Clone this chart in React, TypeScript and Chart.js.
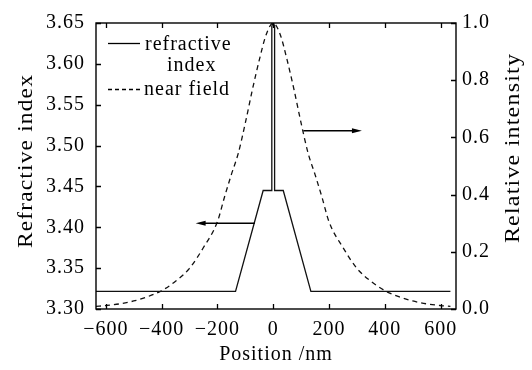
import React, { useEffect, useRef } from "react";
import { Chart, registerables } from "chart.js";

Chart.register(...registerables);

// Near-field relative intensity vs position (nm)
const fieldPos = [-635, -600, -550, -500, -450, -400, -350, -300, -250, -200, -175, -150, -125, -100, -75, -50, -25, 0, 25, 50, 75, 100, 125, 150, 175, 200, 250, 300, 350, 400, 450, 500, 550, 600, 635];
const fieldInt = [0.009, 0.012, 0.018, 0.028, 0.043, 0.064, 0.097, 0.142, 0.215, 0.305, 0.39, 0.47, 0.545, 0.65, 0.765, 0.87, 0.96, 1.0, 0.96, 0.87, 0.765, 0.65, 0.545, 0.47, 0.39, 0.305, 0.215, 0.142, 0.097, 0.064, 0.043, 0.028, 0.018, 0.012, 0.009];

// Refractive index profile vs position (nm)
const indexPos = [-635, -135, -36, -5, -5, -2, 2, 5, 5, 36, 135, 635];
const indexVal = [3.3215, 3.3215, 3.445, 3.445, 3.646, 3.649, 3.649, 3.646, 3.445, 3.445, 3.3215, 3.3215];

// Axis ranges and ticks
const xRange = [-635, 655];
const xStep = 200;
const leftRange = [3.3, 3.65];
const leftStep = 0.05;
const rightRange = [0, 1];
const rightStep = 0.2;

// Annotation arrows (data coordinates)
const arrowFromX = [-66, 108];
const arrowToX = [-278, 318];
const arrowY = [3.405, 0.623];
const arrowAxis = ["y", "y2"];

const legendLabels = ["refractive", "index", "near field"];
const xTitle = "Position /nm";
const leftTitle = "Refractive index";
const rightTitle = "Relative intensity";

const FONT = '"Liberation Serif", "Times New Roman", serif';

export default function App() {
  const ref = useRef<HTMLCanvasElement>(null);

  useEffect(() => {
    const canvas = ref.current;
    if (!canvas) return;

    const spacing = {
      id: "spacing",
      beforeUpdate(chart: any) {
        chart.ctx.letterSpacing = "1px";
      },
      beforeDraw(chart: any) {
        const ctx = chart.ctx;
        ctx.letterSpacing = "1px";
        ctx.save();
        ctx.fillStyle = "#fff";
        ctx.fillRect(0, 0, chart.width, chart.height);
        ctx.restore();
      },
    };

    const vTitle = (ctx: any, text: string, cx: number, cy: number, stretch: number) => {
      ctx.save();
      ctx.translate(cx, cy);
      ctx.rotate(-Math.PI / 2);
      ctx.scale(stretch, 1);
      ctx.font = `20px ${FONT}`;
      ctx.letterSpacing = "1px";
      ctx.fillStyle = "#000";
      ctx.textAlign = "center";
      ctx.textBaseline = "middle";
      ctx.fillText(text, 0, 0);
      ctx.restore();
    };

    const decor = {
      id: "decor",
      afterDatasetsDraw(chart: any) {
        const { ctx, chartArea: a, scales } = chart;
        ctx.save();
        ctx.strokeStyle = "#000";
        ctx.lineWidth = 1.4;
        ctx.strokeRect(a.left, a.top, a.right - a.left, a.bottom - a.top);
        ctx.lineWidth = 1.3;
        const tl = 5;
        ctx.beginPath();
        scales.x.ticks.forEach((t: any) => {
          const px = Math.round(scales.x.getPixelForValue(t.value)) + 0.5;
          ctx.moveTo(px, a.bottom);
          ctx.lineTo(px, a.bottom - tl);
          ctx.moveTo(px, a.top);
          ctx.lineTo(px, a.top + tl);
        });
        scales.y.ticks.forEach((t: any) => {
          const py = Math.round(scales.y.getPixelForValue(t.value)) + 0.5;
          ctx.moveTo(a.left, py);
          ctx.lineTo(a.left + tl, py);
        });
        scales.y2.ticks.forEach((t: any) => {
          const py = Math.round(scales.y2.getPixelForValue(t.value)) + 0.5;
          ctx.moveTo(a.right, py);
          ctx.lineTo(a.right - tl, py);
        });
        ctx.stroke();

        // arrows
        ctx.fillStyle = "#000";
        ctx.lineWidth = 1.5;
        for (let i = 0; i < arrowFromX.length; i++) {
          const ys = scales[arrowAxis[i]];
          const x0 = scales.x.getPixelForValue(arrowFromX[i]);
          const x1 = scales.x.getPixelForValue(arrowToX[i]);
          const y = ys.getPixelForValue(arrowY[i]);
          const dir = x1 > x0 ? 1 : -1;
          ctx.beginPath();
          ctx.moveTo(x0, y);
          ctx.lineTo(x1 - dir * 6, y);
          ctx.stroke();
          ctx.beginPath();
          ctx.moveTo(x1, y);
          ctx.lineTo(x1 - dir * 10, y - 2.5);
          ctx.lineTo(x1 - dir * 10, y + 2.5);
          ctx.closePath();
          ctx.fill();
        }

        // legend
        ctx.letterSpacing = "1px";
        ctx.font = `20px ${FONT}`;
        ctx.textBaseline = "alphabetic";
        ctx.textAlign = "left";
        ctx.lineWidth = 1.3;
        ctx.strokeStyle = "#000";
        ctx.beginPath();
        ctx.moveTo(108, 43.5);
        ctx.lineTo(140, 43.5);
        ctx.stroke();
        ctx.fillText(legendLabels[0], 145, 50);
        ctx.fillText(legendLabels[1], 167, 71);
        ctx.setLineDash([4, 3]);
        ctx.beginPath();
        ctx.moveTo(108, 89.5);
        ctx.lineTo(140, 89.5);
        ctx.stroke();
        ctx.setLineDash([]);
        ctx.fillText(legendLabels[2], 144, 95);
        ctx.restore();

        // vertical axis titles (both read bottom-to-top)
        vTitle(ctx, leftTitle, 27, 161, 1.17);
        vTitle(ctx, rightTitle, 514, 148, 1.2);
      },
    };

    const chart = new Chart(canvas, {
      type: "line",
      data: {
        datasets: [
          {
            label: "refractive index",
            data: indexPos.map((x, i) => ({ x, y: indexVal[i] })),
            yAxisID: "y",
            borderColor: "#111",
            borderWidth: 1.3,
            pointRadius: 0,
            tension: 0,
            fill: false,
          },
          {
            label: "near field",
            data: fieldPos.map((x, i) => ({ x, y: fieldInt[i] })),
            yAxisID: "y2",
            borderColor: "#111",
            borderWidth: 1.3,
            borderDash: [5, 4],
            pointRadius: 0,
            cubicInterpolationMode: "monotone",
            fill: false,
          },
        ],
      },
      options: {
        animation: false,
        responsive: false,
        devicePixelRatio: 1,
        layout: { padding: { top: 16, left: 0, right: 0, bottom: 0 } },
        plugins: { legend: { display: false }, tooltip: { enabled: false } },
        scales: {
          x: {
            type: "linear",
            min: xRange[0],
            max: xRange[1],
            afterFit(s: any) {
              s.height = 61;
            },
            grid: { display: false, drawTicks: false },
            border: { display: false },
            ticks: {
              stepSize: xStep,
              includeBounds: false,
              color: "#000",
              font: { family: FONT, size: 20 },
              padding: 9,
              maxRotation: 0,
              callback: (v: any) => String(v).replace("-", "\u2212"),
            },
            title: {
              display: true,
              text: xTitle,
              color: "#000",
              font: { family: FONT, size: 20 },
              padding: { top: 0, bottom: 3 },
            },
          },
          y: {
            type: "linear",
            position: "left",
            min: leftRange[0],
            max: leftRange[1],
            afterFit(s: any) {
              s.width = 96;
            },
            grid: { display: false, drawTicks: false },
            border: { display: false },
            ticks: {
              stepSize: leftStep,
              includeBounds: false,
              color: "#000",
              font: { family: FONT, size: 20 },
              padding: 11,
              callback: (v: any) => Number(v).toFixed(2),
            },
            title: { display: false, text: leftTitle },
          },
          y2: {
            type: "linear",
            position: "right",
            min: rightRange[0],
            max: rightRange[1],
            afterFit(s: any) {
              s.width = 76;
            },
            grid: { display: false, drawTicks: false },
            border: { display: false },
            ticks: {
              stepSize: rightStep,
              includeBounds: false,
              color: "#000",
              font: { family: FONT, size: 20 },
              padding: 6,
              callback: (v: any) => Number(v).toFixed(1),
            },
            title: { display: false, text: rightTitle },
          },
        },
      },
      plugins: [spacing, decor],
    });

    return () => chart.destroy();
  }, []);

  return (
    <div style={{ position: "absolute", left: 0, top: 0, width: 532, height: 370, background: "#fff" }}>
      <canvas ref={ref} width={532} height={370} style={{ display: "block" }} />
    </div>
  );
}
